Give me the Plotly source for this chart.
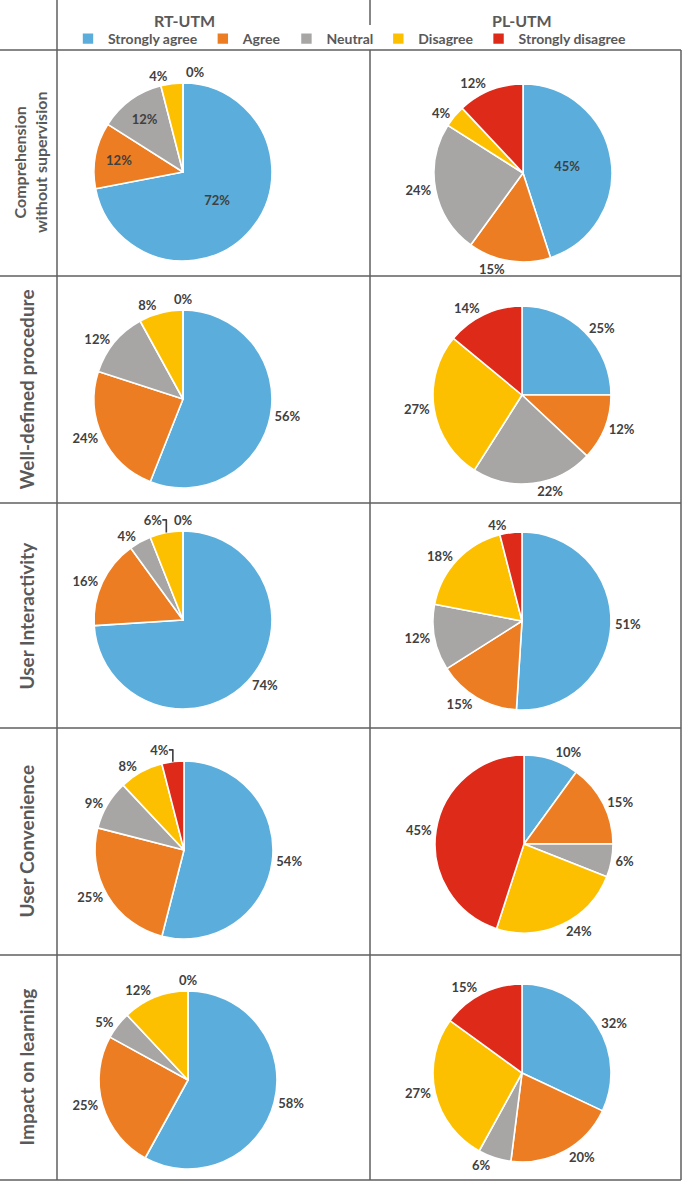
import plotly.graph_objects as go

# ---------------- data ----------------
categories = ["Strongly agree", "Agree", "Neutral", "Disagree", "Strongly disagree"]
colors = ["#5BAEDC", "#ED7D22", "#A7A6A5", "#FDC000", "#DE2A18"]

rows = ["Comprehension<br>without supervision", "Well-defined procedure",
        "User Interactivity", "User Convenience", "Impact on learning"]
columns = ["RT-UTM", "PL-UTM"]

rt_comprehension = [72, 12, 12, 4, 0]
pl_comprehension = [45, 15, 24, 4, 12]
rt_procedure = [56, 24, 12, 8, 0]
pl_procedure = [25, 12, 22, 27, 14]
rt_interactivity = [74, 16, 4, 6, 0]
pl_interactivity = [51, 15, 12, 18, 4]
rt_convenience = [54, 25, 9, 8, 4]
pl_convenience = [10, 15, 6, 24, 45]
rt_learning = [58, 25, 5, 12, 0]
pl_learning = [32, 20, 6, 27, 15]

rt_values = [rt_comprehension, rt_procedure, rt_interactivity, rt_convenience, rt_learning]
pl_values = [pl_comprehension, pl_procedure, pl_interactivity, pl_convenience, pl_learning]

# ---------------- layout / style ----------------
W, H = 684, 1182
R = 89
rt_centers = [(183, 172), (183, 399), (183, 620), (184, 850), (188, 1080)]
pl_centers = [(523, 173), (522, 395), (522, 621), (524, 844), (522, 1073)]
rt_zero_dx = [12, 0, 0, 0, 0]
row_label_size = [16, 19, 19, 19, 19]
row_label_x = [30, 26, 26, 26, 26]

I, O = "inside", "outside"
rt_textpos = [[I, I, I, O, O], [O] * 5, [O] * 5, [O] * 5, [O] * 5]
pl_textpos = [[I, O, O, O, O], [O] * 5, [O] * 5, [O] * 5, [O] * 5]

row_lines = [50, 276, 503, 728, 955, 1180]
col_x = [57, 370, 681]
line_col = "#5F5F5F"
label_font = dict(family="Lato", size=13, color="#404040", weight=700)

fig = go.Figure()
annotations = []

def add_pie(vals, center, textpos, show_legend, zero_dx=0):
    cx, cy = center
    pos = [("none" if v == 0 else p) for v, p in zip(vals, textpos)]
    fig.add_trace(go.Pie(
        labels=categories,
        values=vals,
        sort=False,
        direction="clockwise",
        rotation=0,
        marker=dict(colors=colors, line=dict(color="white", width=1.6)),
        texttemplate="%{value}%",
        textposition=pos,
        insidetextorientation="horizontal",
        textfont=label_font,
        insidetextfont=label_font,
        outsidetextfont=label_font,
        hoverinfo="skip",
        showlegend=show_legend,
        domain=dict(x=[(cx - R) / W, (cx + R) / W],
                    y=[1 - (cy + R) / H, 1 - (cy - R) / H]),
    ))
    # zero-valued slices sit at 12 o'clock; label them just above the pie
    for v in vals:
        if v == 0:
            annotations.append(dict(text=f"{v}%", xref="paper", yref="paper",
                                    x=(cx + zero_dx) / W, y=1 - (cy - R - 11) / H,
                                    showarrow=False, xanchor="center", yanchor="middle",
                                    font=label_font))

for k in range(len(rows)):
    add_pie(rt_values[k], rt_centers[k], rt_textpos[k], k == 0, rt_zero_dx[k])
    add_pie(pl_values[k], pl_centers[k], pl_textpos[k], False)

shapes = []
for y in row_lines:
    shapes.append(dict(type="line", xref="paper", yref="paper",
                       x0=0, x1=col_x[2] / W, y0=1 - y / H, y1=1 - y / H,
                       line=dict(color=line_col, width=1.5)))
shapes.append(dict(type="line", xref="paper", yref="paper", x0=col_x[0] / W, x1=col_x[0] / W,
                   y0=1 - row_lines[-1] / H, y1=1, line=dict(color=line_col, width=1.5)))
shapes.append(dict(type="line", xref="paper", yref="paper", x0=col_x[1] / W, x1=col_x[1] / W,
                   y0=1 - row_lines[-1] / H, y1=1 - row_lines[0] / H, line=dict(color=line_col, width=1.5)))
shapes.append(dict(type="line", xref="paper", yref="paper", x0=col_x[1] / W, x1=col_x[1] / W,
                   y0=1 - 25 / H, y1=1, line=dict(color=line_col, width=1.5)))
shapes.append(dict(type="line", xref="paper", yref="paper", x0=col_x[2] / W, x1=col_x[2] / W,
                   y0=1 - row_lines[-1] / H, y1=1 - row_lines[0] / H, line=dict(color=line_col, width=1.5)))

for k, name in enumerate(rows):
    yc = (row_lines[k] + row_lines[k + 1]) / 2
    annotations.append(dict(text=name, xref="paper", yref="paper", x=row_label_x[k] / W, y=1 - yc / H,
                            textangle=-90, showarrow=False, xanchor="center", yanchor="middle",
                            font=dict(family="Lato", size=row_label_size[k], color="#595959", weight=700)))
for name, x in zip(columns, [184, 522]):
    annotations.append(dict(text=name, xref="paper", yref="paper", x=x / W, y=1 - 20 / H,
                            showarrow=False, xanchor="center", yanchor="middle",
                            font=dict(family="Lato", size=16, color="#595959", weight=700)))

fig.update_layout(
    width=W, height=H,
    margin=dict(l=0, r=0, t=0, b=0),
    paper_bgcolor="white", plot_bgcolor="white",
    shapes=shapes, annotations=annotations,
    legend=dict(orientation="h", x=68 / W, xanchor="left", y=1 - 23 / H, yanchor="top",
                font=dict(family="Lato", size=14, color="#595959", weight=700),
                bgcolor="rgba(0,0,0,0)", itemclick=False, itemdoubleclick=False),
)

fig.write_html("out.html", config={"displayModeBar": False},
               post_script="document.body.style.margin='0px';document.body.style.overflow='hidden';")
